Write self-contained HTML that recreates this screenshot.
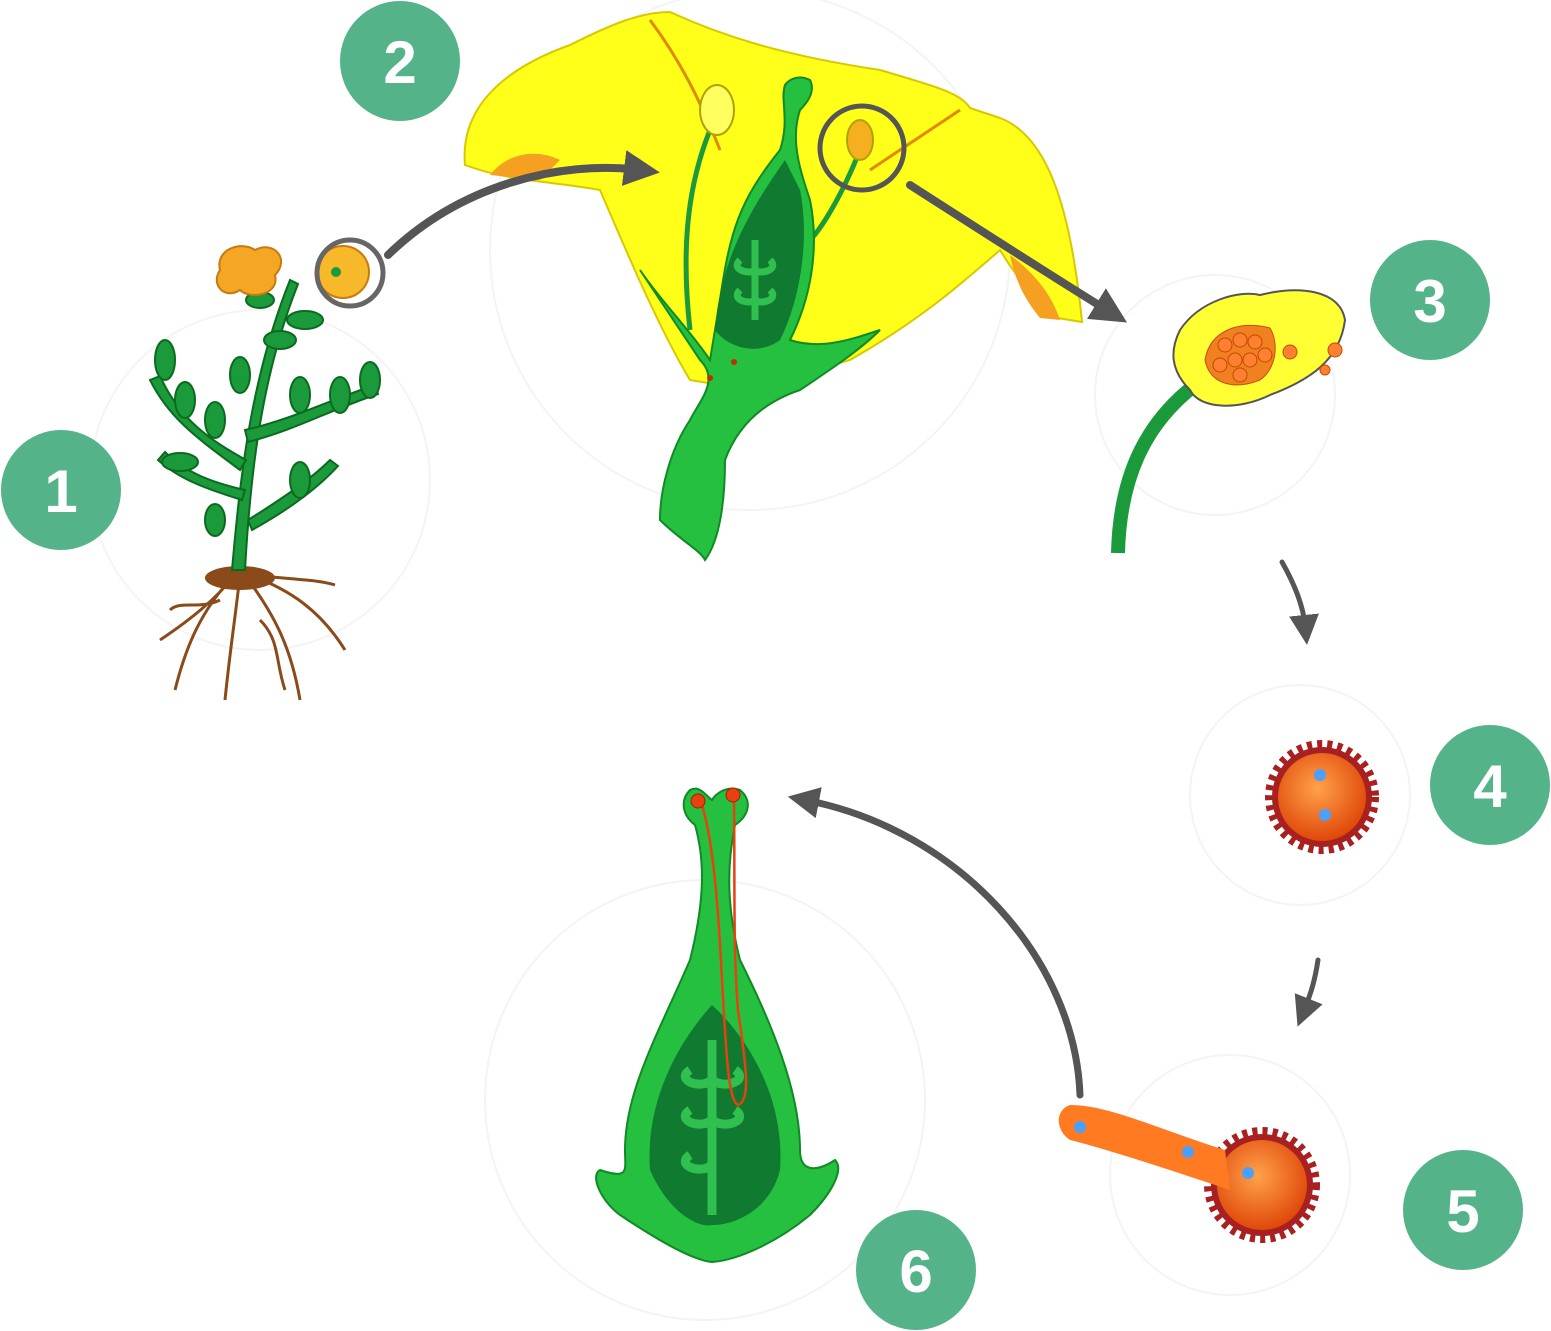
<!DOCTYPE html>
<html><head><meta charset="utf-8"><style>
html,body{margin:0;padding:0;background:#fff;}
svg{display:block;}
text{font-family:"Liberation Sans",sans-serif;font-weight:bold;fill:#fff;}
</style></head><body>
<svg width="1551" height="1331" viewBox="0 0 1551 1331" xmlns="http://www.w3.org/2000/svg">
<defs>
<marker id="ah" markerWidth="4.5" markerHeight="4.5" refX="2" refY="2.25" orient="auto" markerUnits="strokeWidth">
<path d="M0,0 L4.5,2.25 L0,4.5 z" fill="#555"/></marker>
<marker id="ah2" markerWidth="6" markerHeight="6" refX="2" refY="3" orient="auto" markerUnits="strokeWidth">
<path d="M0,0 L6,3 L0,6 z" fill="#555"/></marker>
<radialGradient id="pg" cx="45%" cy="40%" r="60%"><stop offset="0" stop-color="#ffa24a"/><stop offset="1" stop-color="#e0480a"/></radialGradient>
</defs>
<!-- faint circles -->
<g fill="none" stroke="#f4f4f4" stroke-width="2">
<circle cx="260" cy="480" r="170"/><circle cx="750" cy="250" r="260"/><circle cx="1215" cy="395" r="120"/>
<circle cx="1300" cy="795" r="110"/><circle cx="1230" cy="1175" r="120"/><circle cx="705" cy="1100" r="220"/>
</g>

<!-- Plant 1 -->
<g stroke="#8a4a1a" stroke-width="3" fill="none">
<path d="M235,575 C215,600 190,620 160,640 M235,575 C200,610 185,650 175,690 M240,575 C235,620 230,650 225,700 M245,575 C270,610 290,640 300,700 M250,575 C290,590 320,610 345,650 M250,575 C300,580 320,580 335,585 M220,600 C200,610 180,600 170,610 M260,620 C280,640 275,660 285,690"/>
</g>
<ellipse cx="240" cy="578" rx="35" ry="12" fill="#8a4a1a"/>
<g fill="#1a9a3a" stroke="#0a6a20" stroke-width="2">
<path d="M232,570 C240,480 250,380 290,280 L298,284 C260,380 250,480 245,570 z"/>
<path d="M240,470 C200,440 170,420 150,380 L160,376 C180,420 210,440 246,460 z"/>
<path d="M245,430 C290,420 330,400 375,385 L378,394 C330,410 295,430 248,442 z"/>
<path d="M242,500 C210,490 180,480 158,460 L165,452 C185,472 210,482 245,490 z"/>
<path d="M248,520 C280,500 310,480 330,460 L338,466 C318,488 288,510 252,530 z"/>
<ellipse cx="165" cy="360" rx="10" ry="20"/><ellipse cx="185" cy="400" rx="10" ry="18"/><ellipse cx="215" cy="420" rx="10" ry="18"/>
<ellipse cx="300" cy="395" rx="10" ry="18"/><ellipse cx="340" cy="395" rx="10" ry="18"/><ellipse cx="370" cy="380" rx="10" ry="18"/>
<ellipse cx="180" cy="462" rx="18" ry="9"/><ellipse cx="300" cy="480" rx="10" ry="18"/><ellipse cx="215" cy="520" rx="10" ry="16"/>
<ellipse cx="240" cy="375" rx="10" ry="18"/><ellipse cx="280" cy="340" rx="16" ry="9"/><ellipse cx="305" cy="320" rx="18" ry="9"/>
<ellipse cx="260" cy="300" rx="14" ry="8"/>
</g>
<g fill="#f5a623" stroke="#c77a10" stroke-width="2">
<path d="M220,270 C215,250 240,240 255,250 C275,240 290,260 275,275 C280,295 250,300 240,290 C225,300 210,285 220,270 z"/>
<circle cx="343" cy="272" r="26" fill="#f7b82a"/>
</g>
<circle cx="336" cy="272" r="5" fill="#1a9a3a"/>
<circle cx="350" cy="273" r="33" fill="none" stroke="#666" stroke-width="5"/>

<!-- Flower 2 -->
<path d="M465,165 C460,110 500,70 570,45 C610,25 640,12 670,12 C720,35 780,55 880,70 C930,85 960,92 970,108 L1000,118 C1045,135 1070,200 1082,322 L1058,318 C1035,300 1015,275 1000,250 C960,285 920,320 850,360 L750,390 L690,380 C660,330 630,260 600,190 C560,182 510,182 465,165 z" fill="#ffff1a" stroke="#d8c800" stroke-width="2"/>
<path d="M490,175 C510,150 540,150 560,160 L540,180 z" fill="#f5a020"/>
<path d="M1010,255 C1030,270 1050,290 1060,320 L1040,318 C1025,300 1015,280 1010,255 z" fill="#f5a020"/>
<path d="M650,20 C680,60 700,100 720,150" stroke="#e08a00" stroke-width="3" fill="none"/>
<path d="M960,110 C930,130 900,150 870,170" stroke="#e08a00" stroke-width="3" fill="none"/>
<g fill="none" stroke="#1a9a3a" stroke-width="5">
<path d="M710,130 C690,180 680,240 690,330"/><path d="M860,150 C840,200 820,230 810,240"/>
</g>
<ellipse cx="717" cy="110" rx="17" ry="25" fill="#ffff60" stroke="#b0a000" stroke-width="2"/>
<ellipse cx="860" cy="140" rx="13" ry="20" fill="#f5b020" stroke="#b0a000" stroke-width="2"/>
<circle cx="862" cy="148" r="42" fill="none" stroke="#555" stroke-width="5"/>
<path d="M640,270 C660,300 680,330 700,360 C720,380 700,400 690,420 C670,450 660,490 660,520 C680,540 700,550 705,560 C720,540 725,500 725,460 C740,420 770,400 800,390 C830,370 860,350 880,330 C850,340 820,350 790,340 C810,300 820,250 810,200 C800,170 790,140 800,110 C810,100 815,90 810,80 C800,75 790,78 785,85 C780,100 790,120 780,150 C740,200 730,230 720,300 L710,360 C690,330 660,300 640,270 z" fill="#25c040" stroke="#0f8a25" stroke-width="2"/>
<path d="M785,160 C750,210 720,260 715,330 C730,350 760,355 780,340 C800,300 810,240 800,190 z" fill="#0f7a30"/>
<path d="M755,240 L755,320 M740,260 C730,270 750,275 755,270 M740,290 C730,300 750,305 755,300 M770,260 C780,270 760,275 755,270 M770,290 C780,300 760,305 755,300" stroke="#30c050" stroke-width="7" fill="none"/>
<circle cx="710" cy="378" r="3" fill="#c03000"/><circle cx="734" cy="362" r="3" fill="#c03000"/>

<!-- Anther 3 -->
<path d="M1118,553 C1120,470 1150,420 1195,385" stroke="#1a9a3a" stroke-width="14" fill="none"/>
<path d="M1180,330 C1200,300 1240,290 1260,295 C1300,285 1340,290 1345,320 C1340,360 1310,380 1270,395 C1240,410 1200,410 1190,390 C1170,370 1170,350 1180,330 z" fill="#ffff33" stroke="#555" stroke-width="2"/>
<path d="M1205,360 C1210,330 1240,320 1270,328 C1280,345 1275,370 1260,380 C1235,390 1210,385 1205,360 z" fill="#f08020" stroke="#c05010"/>
<g fill="#ff8030" stroke="#c04a00" stroke-width="1">
<circle cx="1225" cy="345" r="7"/><circle cx="1240" cy="340" r="7"/><circle cx="1255" cy="342" r="7"/><circle cx="1220" cy="365" r="7"/><circle cx="1235" cy="360" r="7"/><circle cx="1250" cy="360" r="7"/><circle cx="1265" cy="355" r="7"/><circle cx="1240" cy="375" r="7"/><circle cx="1290" cy="352" r="7"/><circle cx="1335" cy="350" r="7"/><circle cx="1325" cy="370" r="5"/>
</g>

<!-- Pollen 4 -->
<circle cx="1322" cy="797" r="52" fill="none" stroke="#a82020" stroke-width="10" stroke-dasharray="5 5"/>
<circle cx="1322" cy="797" r="50" fill="#a82020"/>
<circle cx="1322" cy="797" r="44" fill="url(#pg)"/>
<circle cx="1320" cy="775" r="6" fill="#4aa0ff"/><circle cx="1325" cy="815" r="6" fill="#4aa0ff"/>

<!-- Pollen tube 5 -->
<circle cx="1262" cy="1185" r="53" fill="none" stroke="#a82020" stroke-width="10" stroke-dasharray="5 5"/>
<circle cx="1262" cy="1185" r="51" fill="#a82020"/>
<circle cx="1262" cy="1185" r="45" fill="url(#pg)"/>
<path d="M1070,1105 C1110,1105 1160,1130 1225,1150 L1230,1190 C1170,1170 1110,1150 1070,1140 C1055,1130 1055,1110 1070,1105 z" fill="#ff7a20"/>
<circle cx="1080" cy="1127" r="6" fill="#4aa0ff"/><circle cx="1188" cy="1152" r="6" fill="#4aa0ff"/><circle cx="1248" cy="1173" r="6" fill="#4aa0ff"/>

<!-- Pistil 6 -->
<path d="M690,790 C680,800 682,815 695,825 C705,860 705,900 690,960 C660,1030 625,1090 625,1150 C625,1170 630,1180 600,1170 C590,1175 600,1200 620,1215 C650,1235 690,1260 712,1262 C740,1260 780,1240 810,1215 C830,1195 845,1170 835,1160 C820,1170 800,1175 800,1150 C800,1090 770,1020 740,960 C725,900 728,860 735,825 C750,815 752,800 740,790 C725,785 715,795 712,800 C705,795 700,785 690,790 z" fill="#25c040" stroke="#0f8a25" stroke-width="2"/>
<path d="M712,1005 C680,1040 645,1100 650,1170 C670,1215 700,1228 712,1225 C735,1225 770,1210 780,1170 C785,1100 750,1040 712,1005 z" fill="#0f7a30"/>
<path d="M712,1040 L712,1215 M690,1070 C675,1080 700,1090 712,1080 M690,1110 C675,1120 700,1130 712,1120 M690,1155 C675,1165 700,1175 712,1165 M735,1070 C750,1080 725,1090 712,1080 M735,1110 C750,1120 725,1130 712,1120" stroke="#30c050" stroke-width="9" fill="none"/>
<path d="M700,800 C712,830 718,900 722,980 C726,1050 728,1100 738,1105 C752,1100 745,1060 738,1010 C733,950 735,880 734,800" stroke="#e84010" stroke-width="2.5" fill="none"/>
<circle cx="698" cy="801" r="7" fill="#e84010" stroke="#a02000"/><circle cx="733" cy="795" r="7" fill="#e84010" stroke="#a02000"/>

<!-- Arrows -->
<g stroke="#555" fill="none" stroke-linecap="round">
<path d="M388,255 C460,185 560,160 640,170" stroke-width="8" marker-end="url(#ah)"/>
<path d="M910,185 C980,230 1050,275 1110,312" stroke-width="8" marker-end="url(#ah)"/>
<path d="M1282,562 C1295,585 1303,605 1305,625" stroke-width="5" marker-end="url(#ah2)"/>
<path d="M1318,960 C1315,980 1311,993 1305,1008" stroke-width="5" marker-end="url(#ah2)"/>
<path d="M1080,1095 C1075,960 960,830 805,800" stroke-width="7" marker-end="url(#ah)"/>
</g>

<!-- Number badges -->
<g fill="#55b38a">
<circle cx="61" cy="490" r="60"/><circle cx="400" cy="61" r="60"/><circle cx="1430" cy="300" r="60"/>
<circle cx="1490" cy="785" r="60"/><circle cx="1463" cy="1210" r="60"/><circle cx="916" cy="1270" r="60"/>
</g>
<g font-size="60" text-anchor="middle">
<text x="61" y="512">1</text><text x="400" y="83">2</text><text x="1430" y="322">3</text>
<text x="1490" y="807">4</text><text x="1463" y="1232">5</text><text x="916" y="1292">6</text>
</g>
</svg>
</body></html>
